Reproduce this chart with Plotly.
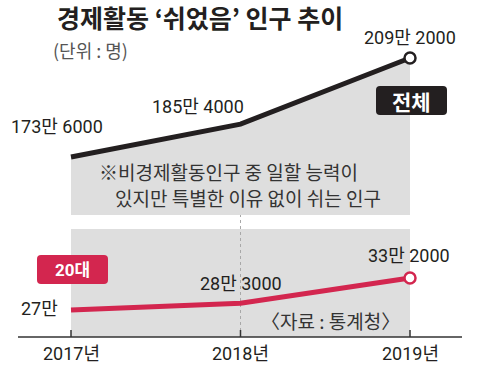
import plotly.graph_objects as go

years = [2017, 2018, 2019]
year_labels = ["2017년", "2018년", "2019년"]
total_vals = [173.6, 185.4, 209.2]          # 만 명
total_labels = ["173만 6000", "185만 4000", "209만 2000"]
youth_vals = [27.0, 28.3, 33.2]             # 만 명
youth_labels = ["27만", "28만 3000", "33만 2000"]

BLACK = "#231f20"
RED = "#d3264f"
GRAY = "#dedede"
NFONT = "Roboto, 'Noto Sans CJK KR', sans-serif"
KFONT = "'Noto Sans CJK KR', sans-serif"

L, R, T, B = 20, 18, 0, 31
PW, PH = 480 - L - R, 368 - T - B   # plot area in px


def px_x(p):
    return (p - L) / PW


def px_y(p):
    return (368 - B - p) / PH


def rounded(x0, y0, x1, y1, r):
    def P(x, y):
        return f"{px_x(x):.5f},{px_y(y):.5f}"
    return (f"M{P(x0 + r, y0)} L{P(x1 - r, y0)} Q{P(x1, y0)} {P(x1, y0 + r)} "
            f"L{P(x1, y1 - r)} Q{P(x1, y1)} {P(x1 - r, y1)} L{P(x0 + r, y1)} "
            f"Q{P(x0, y1)} {P(x0, y1 - r)} L{P(x0, y0 + r)} Q{P(x0, y0)} {P(x0 + r, y0)} Z")


fig = go.Figure()

fig.add_trace(go.Scatter(x=years, y=total_vals, mode="lines", fill="tozeroy",
                         fillcolor=GRAY, line=dict(color=BLACK, width=5),
                         xaxis="x", yaxis="y", hoverinfo="skip"))
fig.add_trace(go.Scatter(x=[years[-1]], y=[total_vals[-1]], mode="markers",
                         marker=dict(size=11, color="white", line=dict(color=BLACK, width=2.5)),
                         xaxis="x", yaxis="y", hoverinfo="skip"))
fig.add_trace(go.Scatter(x=years, y=youth_vals, mode="lines",
                         line=dict(color=RED, width=5),
                         xaxis="x", yaxis="y2", hoverinfo="skip"))
fig.add_trace(go.Scatter(x=[years[-1]], y=[youth_vals[-1]], mode="markers",
                         marker=dict(size=11, color="white", line=dict(color=RED, width=2.5)),
                         xaxis="x", yaxis="y2", hoverinfo="skip"))

shapes = [
    dict(type="rect", xref="x", yref="y2 domain", x0=years[0], x1=years[-1], y0=0, y1=1,
         fillcolor=GRAY, line=dict(width=0), layer="below"),
    dict(type="line", xref="x", yref="paper", x0=years[1], x1=years[1], y0=0, y1=px_y(125),
         line=dict(color="#a8a8a8", width=1, dash="dot"), layer="below"),
    dict(type="line", xref="paper", yref="paper", x0=px_x(18), x1=px_x(462), y0=0, y1=0,
         line=dict(color="#333333", width=1.5)),
    dict(type="path", path=rounded(376, 86, 447, 115, 4), xref="paper", yref="paper",
         fillcolor=BLACK, line=dict(width=0)),
    dict(type="path", path=rounded(37, 255, 108, 284, 4), xref="paper", yref="paper",
         fillcolor=RED, line=dict(width=0)),
]
for yv in years:
    shapes.append(dict(type="line", xref="x", yref="paper", x0=yv, x1=yv, y0=0, y1=7 / PH,
                       line=dict(color="#333333", width=1.5)))

ann = []


def add(text, xp, yp, size, color=BLACK, font=KFONT, xanchor="center", bold=False):
    ann.append(dict(text=f"<b>{text}</b>" if bold else text, xref="paper", yref="paper",
                    x=px_x(xp), y=px_y(yp), xanchor=xanchor, yanchor="middle",
                    showarrow=False, font=dict(size=size, color=color, family=font)))


def vlabel(text, x, y, yref, cx, cy):
    ann.append(dict(text=text, x=x, y=y, xref="x", yref=yref, showarrow=False,
                    xshift=cx, yshift=cy, font=dict(size=18, color=BLACK, family=NFONT)))


add("경제활동 ‘쉬었음’ 인구 추이", 55, 17, 25, xanchor="left", bold=True)
add("(단위 : 명)", 51, 50, 18, color="#555555", xanchor="left")

vlabel(total_labels[0], years[0], total_vals[0], "y", -14, 30)
vlabel(total_labels[1], years[1], total_vals[1], "y", -43, 18)
vlabel(total_labels[2], years[2], total_vals[2], "y", 0, 20)
vlabel(youth_labels[0], years[0], youth_vals[0], "y2", -32, 2)
vlabel(youth_labels[1], years[1], youth_vals[1], "y2", 0, 20)
vlabel(youth_labels[2], years[2], youth_vals[2], "y2", -1, 22)

for yv, lab in zip(years, year_labels):
    ann.append(dict(text=lab, x=yv, y=px_y(353), xref="x", yref="paper", showarrow=False,
                    yanchor="middle", font=dict(size=18, color=BLACK, family=NFONT)))

add("※비경제활동인구 중 일할 능력이", 228, 171, 19, color="#333333")
add("있지만 특별한 이유 없이 쉬는 인구", 248, 197, 19, color="#333333")
add("〈자료 : 통계청〉", 330, 320, 19, color="#333333")
add("전체", 411.5, 100.5, 21, color="white", bold=True)
add("20대", 72.5, 269.5, 17, color="white", font=NFONT, bold=True)

x0 = 2017 - (71 - L) / 169.5
x1 = x0 + PW / 169.5

fig.update_layout(
    width=480, height=368,
    margin=dict(l=L, r=R, t=T, b=B),
    paper_bgcolor="white", plot_bgcolor="white",
    showlegend=False,
    shapes=shapes, annotations=ann,
    xaxis=dict(range=[x0, x1], showticklabels=False, ticks="",
               showgrid=False, zeroline=False, showline=False,
               anchor="y2", fixedrange=True),
    yaxis=dict(domain=[(337 - 215) / PH, 1.0], range=[152.74, 230.05], visible=False, fixedrange=True),
    yaxis2=dict(domain=[0, (337 - 229) / PH], range=[21.77, 42.69], visible=False, fixedrange=True),
)

fig.write_html("out.html", config={"displayModeBar": False},
               post_script="document.body.style.margin='0';")
